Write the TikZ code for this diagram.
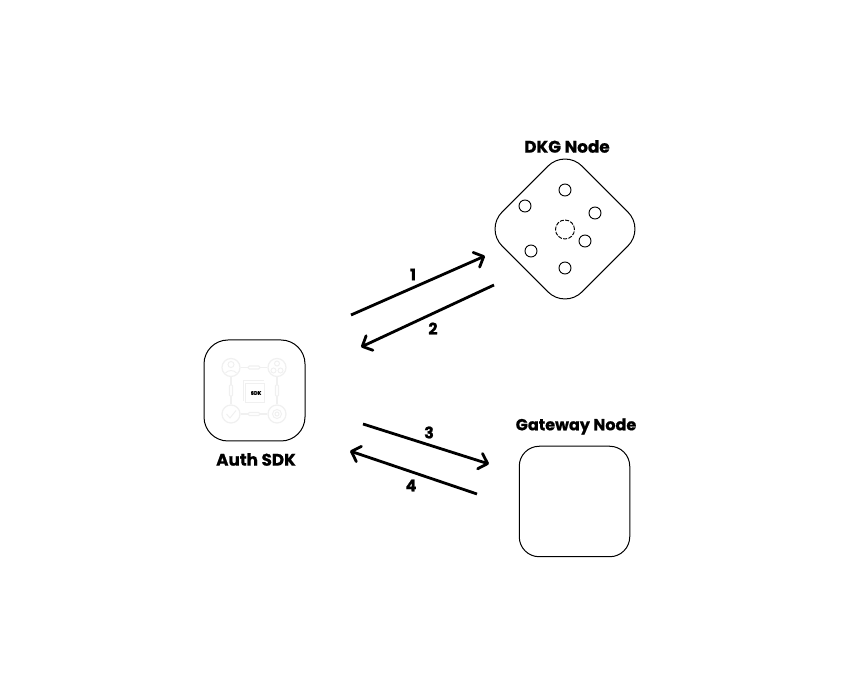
\documentclass[tikz,border=0pt]{standalone}
\usepackage{fontspec}
\setmainfont[BoldFeatures={FakeBold=0.8}]{Poppins}
\usetikzlibrary{arrows.meta}
\definecolor{faint}{HTML}{F0F0F0}
\tikzset{
  x=0.75pt,y=-0.75pt,
  box/.style={draw=black,line width=0.75pt,fill=white,inner sep=0pt},
  title/.style={font=\bfseries\fontsize{12}{14}\selectfont,inner sep=0pt,text=black},
  wide title/.style={font=\bfseries\fontsize{12.6}{14}\selectfont,inner sep=0pt,text=black},
  num/.style={font=\bfseries\fontsize{12}{14}\selectfont,inner sep=0pt,text=black},
  flow/.style={line width=2.1pt,-{Straight Barb[length=6pt,width=12pt,line width=2.1pt,round]}},
  dot/.style={circle,draw=black,line width=0.7pt,minimum size=12*0.75pt,inner sep=0pt},
  ring/.style={circle,draw=faint,line width=0.9pt,minimum size=18*0.75pt,inner sep=0pt},
  glyph/.style={draw=faint,line width=0.7pt},
  pill/.style={draw=faint,line width=0.8pt,rounded corners=1pt,inner sep=0pt,fill=white},
  link/.style={draw=faint,line width=0.8pt},
}
\begin{document}
\begin{tikzpicture}
\useasboundingbox[fill=white] (0,0) rectangle (847,691);
% Auth SDK
\node[box,minimum size=101*0.75pt,rounded corners=18pt] (auth) at (254.5,390.5) {};
\node[ring] (r1) at (231,367.5) {};
\node[ring] (r2) at (277,367.5) {};
\node[ring] (r3) at (231,414) {};
\node[ring] (r4) at (277,414) {};
\draw[link] (r1) -- (r2);
\draw[link] (r3) -- (r4);
\draw[link] (r1) -- (r3);
\draw[link] (r2) -- (r4);
\node[pill,minimum width=12*0.75pt,minimum height=3*0.75pt] (p1) at (254,367.5) {};
\node[pill,minimum width=12*0.75pt,minimum height=3*0.75pt] (p2) at (254,414) {};
\node[pill,minimum width=3*0.75pt,minimum height=12*0.75pt] (p3) at (231,390.5) {};
\node[pill,minimum width=3*0.75pt,minimum height=12*0.75pt] (p4) at (277,390.5) {};
% glyphs inside the rings
\draw[glyph] (231,364.5) circle (3);
\draw[glyph] (225.5,373) to[bend left=50] (236.5,373);
\draw[glyph] (277,363.5) circle (2.5) (273.5,370.5) circle (2.5) (280.5,370.5) circle (2.5);
\draw[glyph] (226.5,414) -- (230,418) -- (236,410.5);
\draw[glyph] (277,414) circle (4.5) (277,414) circle (2);
% centre square
\draw[faint,line width=0.7pt] (243,401) -- (243,380) -- (264,380);
\node[draw=faint,line width=0.7pt,minimum size=19*0.75pt,inner sep=0pt] (core) at (255,392.5) {};
\node[font=\bfseries\fontsize{3.8}{4}\selectfont,inner sep=0pt] (sdk) at (256,393) {SDK};
\node[wide title] (authl) at (256,459.5) {Auth SDK};
% DKG
\node[box,minimum size=113*0.75pt,rounded corners=18pt,rotate=45] (dkg) at (565,229) {};
\node[dot] (d1) at (565,190) {};
\node[dot] (d2) at (525,206) {};
\node[dot] (d3) at (595,213) {};
\node[dot] (d4) at (585,241) {};
\node[dot] (d5) at (531,251) {};
\node[dot] (d6) at (565,268) {};
\node[dot,dash pattern=on 3pt off 1pt,minimum size=19*0.75pt] (d0) at (565,229.5) {};
\node[wide title] (dkgl) at (567,146.5) {DKG Node};
% Gateway
\node[box,minimum size=110.5*0.75pt,rounded corners=15pt] (gw) at (574.5,501.5) {};
\node[title] (gwl) at (576,426.5) {Gateway Node};
% Connector ends
\coordinate (a1) at (351,315);
\coordinate (b1) at (485,256);
\coordinate (a2) at (494,285);
\coordinate (b2) at (361,347);
\coordinate (a3) at (363,424);
\coordinate (b3) at (489,464);
\coordinate (a4) at (477,494);
\coordinate (b4) at (350,451);
\draw[flow] (a1) -- (b1);
\draw[flow] (a2) -- (b2);
\draw[flow] (a3) -- (b3);
\draw[flow] (a4) -- (b4);
\node[num] (n1) at (413,274.5) {1};
\node[num] (n2) at (433,328.5) {2};
\node[num] (n3) at (429,432.5) {3};
\node[num] (n4) at (411,485.5) {4};
\end{tikzpicture}
\end{document}
